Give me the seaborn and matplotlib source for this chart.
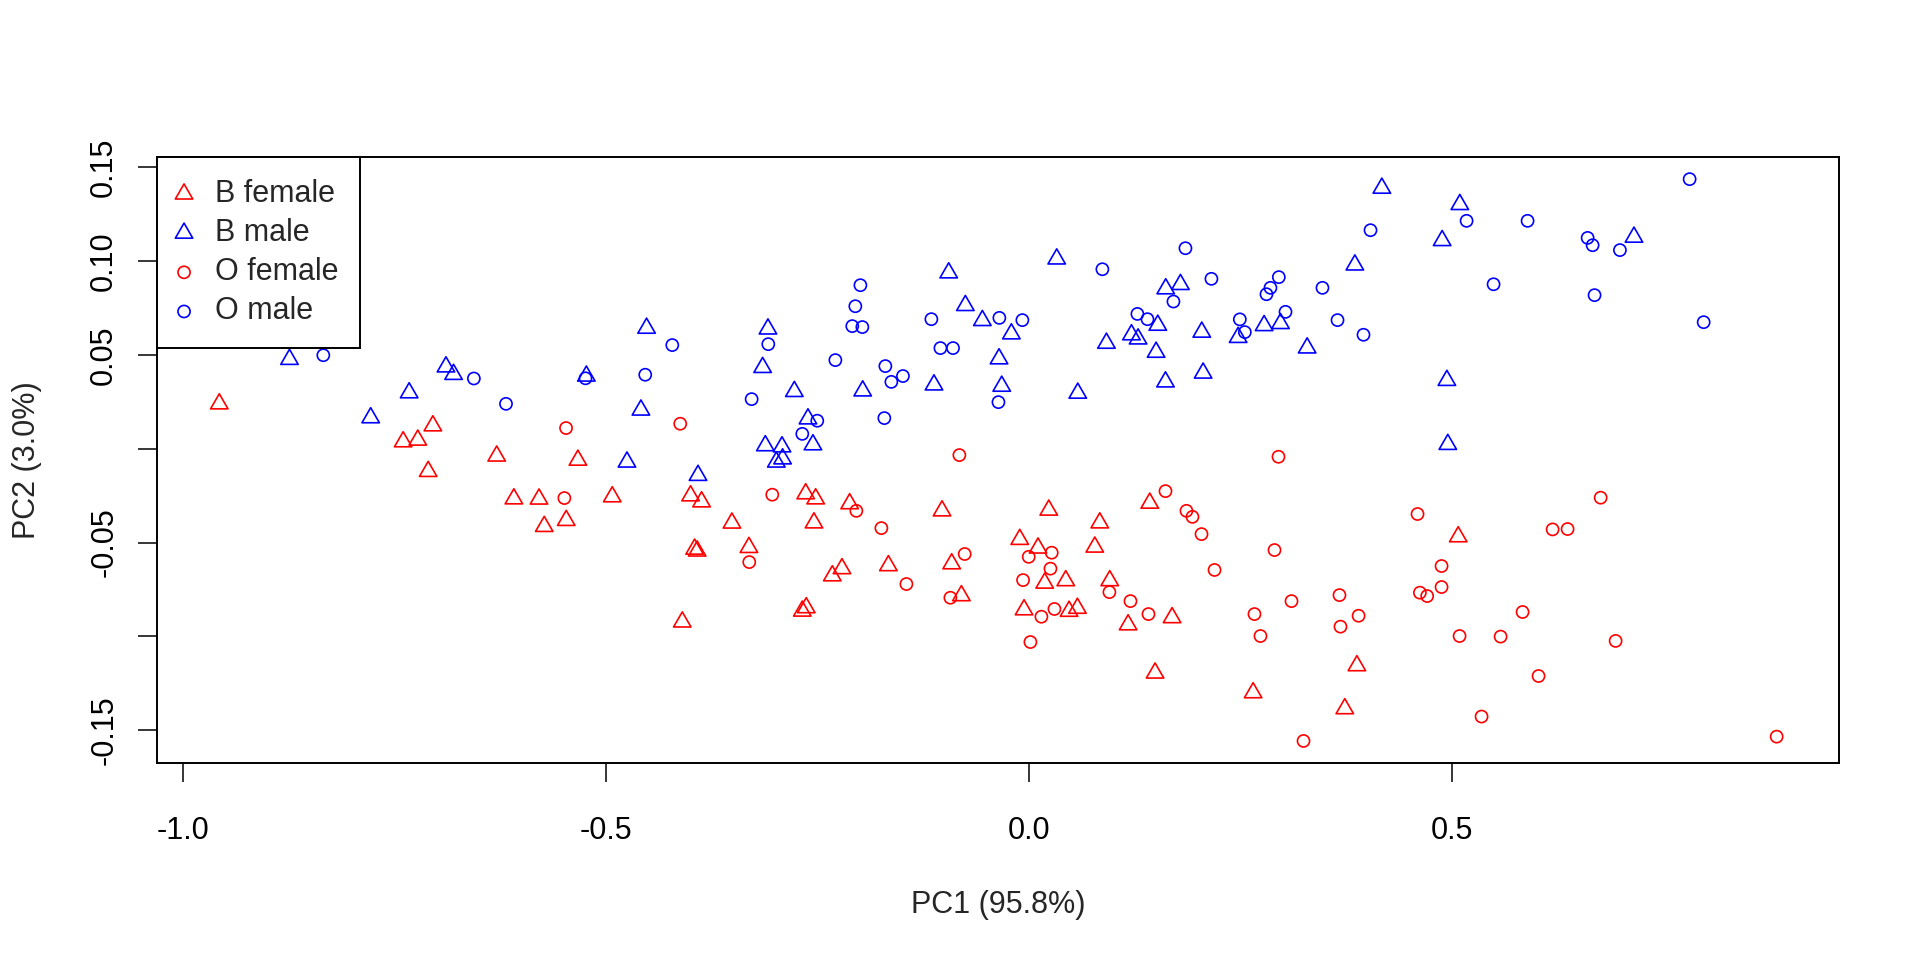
import matplotlib
matplotlib.use("Agg")
import matplotlib.pyplot as plt
import seaborn as sns
import pandas as pd
from matplotlib.path import Path
from matplotlib.markers import MarkerStyle

# ---------------- data ----------------
bf_x = [-0.957, -0.7045, -0.7396, -0.7223, -0.710, -0.629, -0.533, -0.6087, -0.579, -0.5728,
        -0.5468, -0.4924, -0.3998, -0.3868, -0.2637, -0.2519, -0.2117, -0.3509, -0.2539, -0.1025,
        -0.0106, -0.395, -0.392, -0.3308, -0.2322, -0.2208, -0.1659, -0.0911, -0.0796, -0.263,
        -0.2677, -0.4096, -0.0055, 0.0237, 0.1431, 0.084, 0.0781, 0.011, 0.0189, 0.0438,
        0.0958, 0.0477, 0.0576, 0.1175, 0.1695, 0.1494, 0.2653, 0.388, 0.3737, 0.5078]
bf_y = [0.0239, 0.0122, 0.0037, 0.0046, -0.0121, -0.0039, -0.0061, -0.0267, -0.0268, -0.0414,
        -0.0382, -0.0256, -0.0251, -0.0283, -0.024, -0.0267, -0.0293, -0.0396, -0.0395, -0.0331,
        -0.0483, -0.0535, -0.0545, -0.0526, -0.0677, -0.0639, -0.0623, -0.0613, -0.0783, -0.0847,
        -0.0865, -0.0923, -0.0858, -0.0327, -0.029, -0.0395, -0.0524, -0.0529, -0.0716, -0.0703,
        -0.0703, -0.0866, -0.085, -0.0938, -0.09, -0.1195, -0.13, -0.1156, -0.1385, -0.0469]

bm_x = [-0.874, -0.689, -0.680, -0.523, -0.7325, -0.778, -0.4518, -0.4585, -0.475, -0.391,
        -0.3083, -0.3146, -0.2771, -0.261, -0.2551, -0.3114, -0.2917, -0.291, -0.2984, -0.1963,
        -0.0946, -0.0749, -0.0548, -0.0205, -0.0351, -0.112, -0.0319, 0.0331, 0.162, 0.1794,
        0.1526, 0.1215, 0.1293, 0.0919, 0.1506, 0.2046, 0.1617, 0.2062, 0.058, 0.2476,
        0.2783, 0.2977, 0.3292, 0.3856, 0.4175, 0.5097, 0.4888, 0.4944, 0.4955, 0.7156]
bm_y = [0.0476, 0.0436, 0.0396, 0.0387, 0.0298, 0.0165, 0.0642, 0.0206, -0.0071, -0.0142,
        0.0638, 0.0433, 0.0305, 0.0159, 0.0021, 0.0016, 0.001, -0.0054, -0.0071, 0.0308,
        0.0937, 0.0763, 0.0683, 0.0612, 0.0479, 0.034, 0.0333, 0.1011, 0.0852, 0.0875,
        0.0658, 0.0607, 0.0585, 0.0562, 0.0514, 0.0621, 0.0356, 0.0403, 0.0296, 0.0593,
        0.0656, 0.0667, 0.0537, 0.0979, 0.1388, 0.1301, 0.1109, 0.0364, 0.0023, 0.1127]

of_x = [-0.547, -0.549, -0.412, -0.3032, -0.2038, -0.1742, -0.3304, -0.1446, -0.0757, -0.0926,
        -0.082, 0.0, -0.0067, 0.002, 0.2953, 0.1617, 0.1865, 0.1936, 0.2043, 0.0272,
        0.0257, 0.0954, 0.015, 0.0304, 0.1203, 0.1416, 0.2197, 0.2906, 0.2669, 0.274,
        0.3107, 0.3249, 0.3674, 0.3686, 0.39, 0.4597, 0.4881, 0.4881, 0.4625, 0.4711,
        0.5094, 0.6762, 0.6194, 0.6371, 0.5839, 0.5579, 0.6939, 0.6028, 0.5354, 0.8843]
of_y = [0.011, -0.0263, 0.0133, -0.0245, -0.0331, -0.0423, -0.0604, -0.0721, -0.0561, -0.0794,
        -0.0034, -0.0576, -0.07, -0.103, -0.0043, -0.0226, -0.0331, -0.0363, -0.0455, -0.0554,
        -0.0639, -0.0764, -0.0895, -0.0854, -0.0812, -0.0881, -0.0646, -0.054, -0.0881, -0.0998,
        -0.0812, -0.1557, -0.078, -0.0948, -0.089, -0.0348, -0.0625, -0.0737, -0.0767, -0.0785,
        -0.0998, -0.0261, -0.043, -0.0428, -0.087, -0.1001, -0.1024, -0.1211, -0.1427, -0.1534]

om_x = [-0.834, -0.656, -0.524, -0.618, -0.4214, -0.4534, -0.3079, -0.3276, -0.250, -0.2677,
        -0.199, -0.205, -0.2086, -0.1967, -0.2286, -0.1695, -0.1487, -0.1624, -0.1707, -0.1151,
        -0.0347, -0.0075, -0.1044, -0.0895, -0.0358, 0.0871, 0.1853, 0.1711, 0.216, 0.1285,
        0.1404, 0.2496, 0.2555, 0.3036, 0.2811, 0.2858, 0.2957, 0.3473, 0.3651, 0.3958,
        0.4041, 0.5177, 0.5898, 0.7814, 0.6608, 0.6667, 0.699, 0.5496, 0.669, 0.798]
om_y = [0.0498, 0.0374, 0.0375, 0.0239, 0.0552, 0.0394, 0.0557, 0.0264, 0.0149, 0.0079,
        0.0871, 0.0759, 0.0653, 0.0648, 0.0472, 0.044, 0.0387, 0.0356, 0.0163, 0.069,
        0.0697, 0.0685, 0.0536, 0.0536, 0.0248, 0.0956, 0.1068, 0.0784, 0.0905, 0.0718,
        0.069, 0.0689, 0.0621, 0.0729, 0.0823, 0.0857, 0.0914, 0.0857, 0.0685, 0.0607,
        0.1164, 0.1214, 0.1214, 0.1436, 0.1123, 0.1084, 0.1058, 0.0876, 0.0818, 0.0674]

group_labels = ["B female", "B male", "O female", "O male"]
x_ticks = [-1.0, -0.5, 0.0, 0.5]
x_tick_labels = ["-1.0", "-0.5", "0.0", "0.5"]
y_ticks = [-0.15, -0.10, -0.05, 0.0, 0.05, 0.10, 0.15]
y_tick_labels = ["-0.15", "", "-0.05", "", "0.05", "0.10", "0.15"]
x_label = "PC1 (95.8%)"
y_label = "PC2 (3.0%)"

# ---------------- style ----------------
sns.set_style("ticks")
plt.rcParams["font.family"] = ["Liberation Sans", "DejaVu Sans"]

fig = plt.figure(figsize=(19.2, 9.6), dpi=100)
ax = fig.add_axes([0.08161, 0.20490, 0.87620, 0.63156])

tri = MarkerStyle(Path([(0, 1), (-0.8660, -0.5), (0.8660, -0.5), (0, 1)],
                       [Path.MOVETO, Path.LINETO, Path.LINETO, Path.CLOSEPOLY]))
circ = MarkerStyle("o")

series = [
    (bf_x, bf_y, "#FF0000", tri, 210),
    (bm_x, bm_y, "#0000FF", tri, 210),
    (of_x, of_y, "#FF0000", circ, 76),
    (om_x, om_y, "#0000FF", circ, 76),
]
for (xs, ys, col, mk, size), lab in zip(series, group_labels):
    df = pd.DataFrame({"x": xs, "y": ys})
    sns.scatterplot(data=df, x="x", y="y", ax=ax, marker=mk, s=size,
                    facecolor="none", edgecolor=col, linewidth=1.2, label=lab)

ax.set_xlim(-1.031, 0.958)
ax.set_ylim(-0.1676, 0.1554)
ax.set_xticks(x_ticks)
ax.set_xticklabels(x_tick_labels)
ax.set_yticks(y_ticks)
ax.set_yticklabels(y_tick_labels, rotation=90, va="center")

for sp in ax.spines.values():
    sp.set_visible(True)
    sp.set_linewidth(1.4)
    sp.set_color("black")

ax.tick_params(axis="both", direction="out", length=14, width=1.1, colors="black",
               labelsize=22)
ax.tick_params(axis="x", pad=24)
ax.tick_params(axis="y", pad=13)

ax.set_xlabel(x_label, fontsize=22, va="center")
ax.set_ylabel(y_label, fontsize=22, va="center")
ax.xaxis.set_label_coords(0.5, -0.234)
ax.yaxis.set_label_coords(-0.0768, 0.5)

leg = ax.legend(loc="upper left", bbox_to_anchor=(0, 1), borderaxespad=0,
                fontsize=22, frameon=True, fancybox=False, framealpha=1,
                edgecolor="black", borderpad=0.72, handlelength=0.35,
                handletextpad=0.83, labelspacing=0.3)
leg.get_frame().set_linewidth(1.4)

fig.savefig("out.png", dpi=100, facecolor="white")
